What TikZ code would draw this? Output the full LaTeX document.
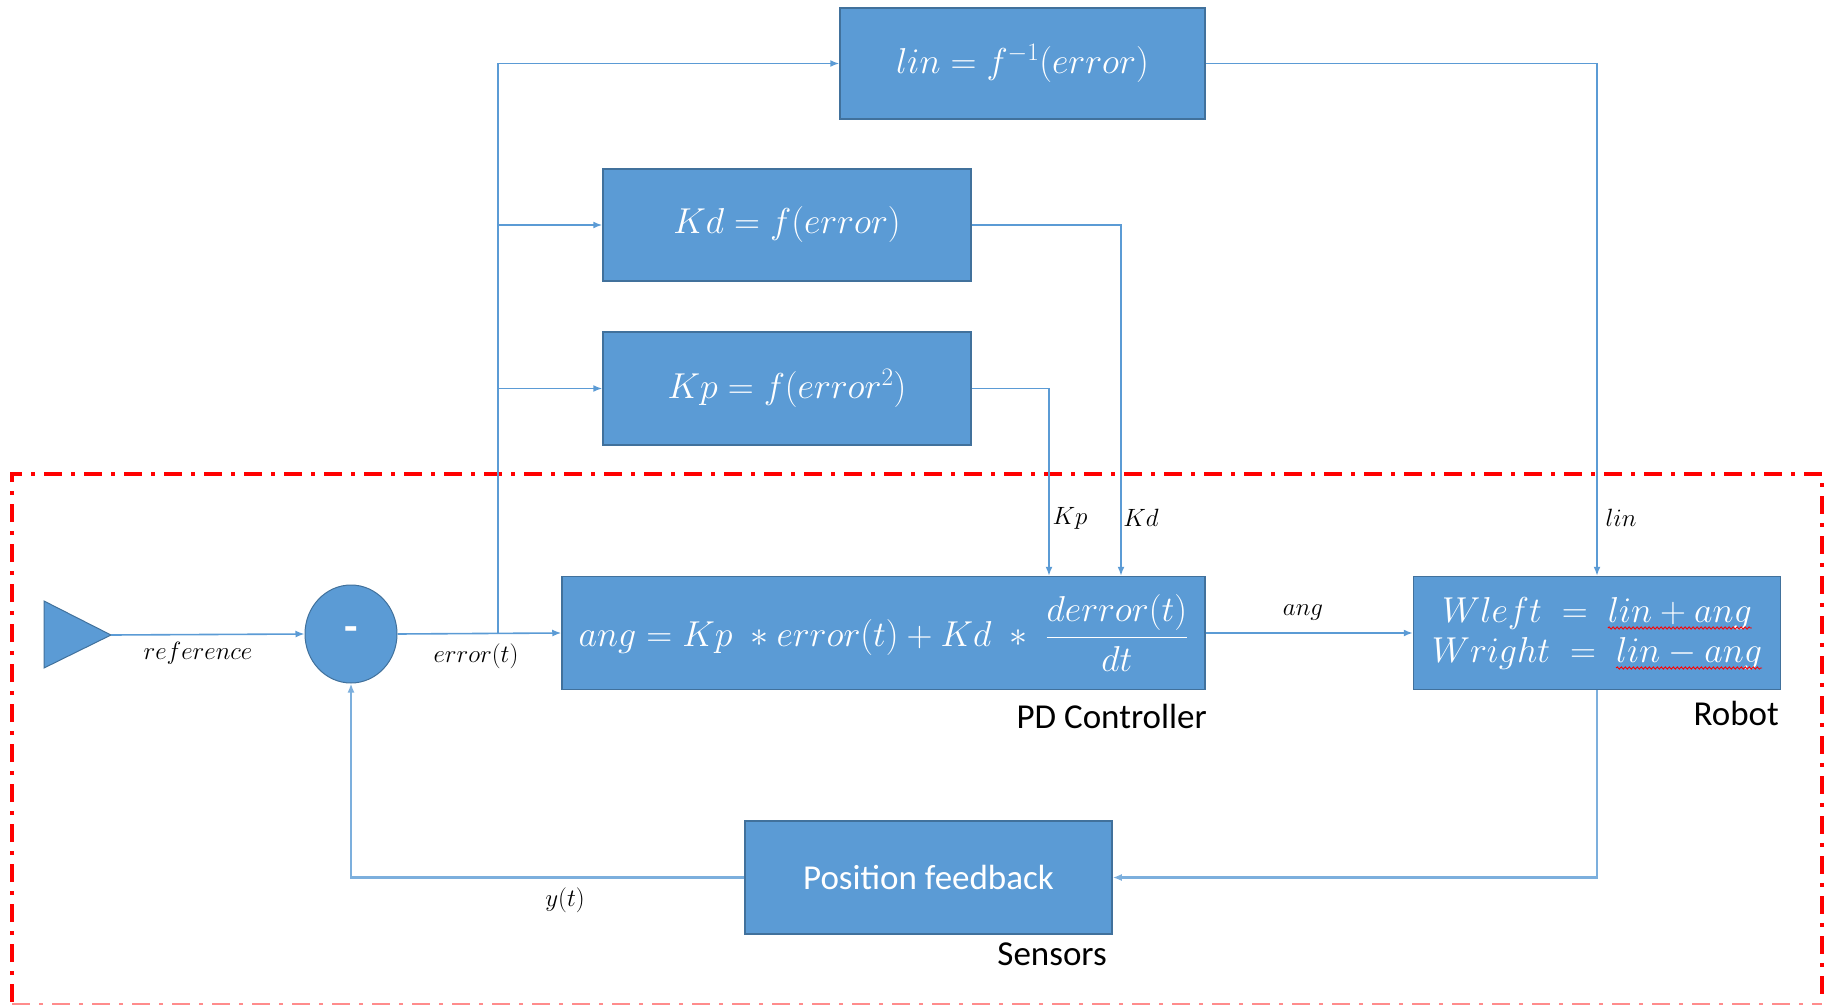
\RequirePackage{fix-cm}
\documentclass[tikz,border=0pt]{standalone}
\usepackage{fontspec}
\setmainfont{Carlito}
\usetikzlibrary{arrows.meta,shapes.geometric,decorations.pathmorphing}
\definecolor{boxfill}{HTML}{5B9BD5}
\definecolor{boxedge}{HTML}{41719C}
\definecolor{linec}{HTML}{5B9BD5}
\definecolor{framered}{HTML}{FF0000}
\newsavebox\wavebox
\newcommand\redwave[1]{\sbox\wavebox{#1}\usebox\wavebox\tikz[overlay]\draw[red,line width=0.9pt,decorate,decoration={snake,amplitude=1.1pt,segment length=4pt}] (-\wd\wavebox,-6pt) -- (0pt,-6pt);}
\begin{document}
\begin{tikzpicture}[x=1pt,y=-1pt,
  blk/.style={draw=boxedge,line width=1.5pt,fill=boxfill,text=white,inner sep=0pt,
    font=\fontsize{36}{43}\selectfont},
  conn/.style={draw=linec,line width=1.6pt,-{Latex[length=9pt,width=7pt]}},
  fb/.style={line width=2.6pt,draw=linec!80},
  lbl/.style={font=\fontsize{25}{30}\selectfont,text=black,inner sep=0pt},
  capt/.style={font=\fontsize{35}{42}\selectfont,text=black,inner sep=0pt,anchor=east}]
\useasboundingbox (0,0) rectangle (1826,1006);

% frame
\draw[framered,line width=3.5pt,dash pattern=on 18pt off 9pt on 4pt off 9pt]
  (12,1002) -- (12,474) -- (1822,474) -- (1822,1002);
\draw[framered!45,line width=1.6pt,dash pattern=on 18pt off 9pt on 4pt off 9pt]
  (12,1004) -- (1822,1004);

% blocks
\node[blk,minimum width=365pt,minimum height=111pt] (linbox) at (1022.5,63.5) {$lin = f^{-1}(error)$};
\node[blk,minimum width=368pt,minimum height=112pt] (kdbox) at (787,225) {$Kd = f(error)$};
\node[blk,minimum width=368pt,minimum height=113pt] (kpbox) at (787,388.5) {$Kp = f(error^{2})$};
\node[blk,minimum width=643pt,minimum height=113pt] (pd) at (883.5,633) {$\displaystyle ang = Kp\;\ast error(t) + Kd\;\ast\;\frac{derror(t)}{dt}$};
\node[blk,minimum width=367pt,minimum height=113pt,align=center] (robot) at (1597,633)
  {$Wleft\;\;{=}\;\;$\redwave{$lin + ang$}\\[-3pt] $Wright\;\;{=}\;\;$\redwave{$lin - ang$}};
\node[blk,minimum width=367pt,minimum height=113pt,font=\fontsize{35}{42}\selectfont] (pf) at (928.5,877.5) {Position feedback};

% source and summing junction
\draw[fill=boxfill,draw=boxedge,line width=1pt] (44,601) -- (111,635) -- (44,668) -- cycle;
\coordinate (src) at (111,635);
\node[ellipse,draw=boxedge,line width=1pt,fill=boxfill,minimum width=92pt,minimum height=98pt,
  inner sep=0pt,text=white,font=\fontsize{44}{50}\selectfont\bfseries] (sum) at (351,634) {-};
\coordinate (br) at (498,634);

% connectors
\draw[conn] (src) -- (sum.west);
\draw[conn] (sum.east) -- (pd.west);
\draw[conn] (br) |- (linbox.west);
\draw[conn] (br) |- (kdbox.west);
\draw[conn] (br) |- (kpbox.west);
\draw[conn] (kpbox.east) -| ([xshift=165.5pt]pd.north);
\draw[conn] (kdbox.east) -| ([xshift=237.5pt]pd.north);
\draw[conn] (linbox.east) -| (robot.north);
\draw[conn] (pd.east) -- (robot.west);
\draw[conn,fb] (robot.south) |- (pf.east);
\draw[conn,fb] (pf.west) -| (sum.south);

% labels
\node[lbl] (lref) at (198,653) {$reference$};
\node[lbl] (lerr) at (476,656) {$error(t)$};
\node[lbl] (lkp) at (1070,518) {$Kp$};
\node[lbl] (lkd) at (1141,518) {$Kd$};
\node[lbl] (llin) at (1621,518) {$lin$};
\node[lbl] (lang) at (1303,613) {$ang$};
\node[lbl] (ly) at (565,900) {$y(t)$};
\node[capt] (cpd) at (1207,716) {PD Controller};
\node[capt] (crob) at (1779,713) {Robot};
\node[capt] (csens) at (1107,954) {Sensors};
\end{tikzpicture}
\end{document}
